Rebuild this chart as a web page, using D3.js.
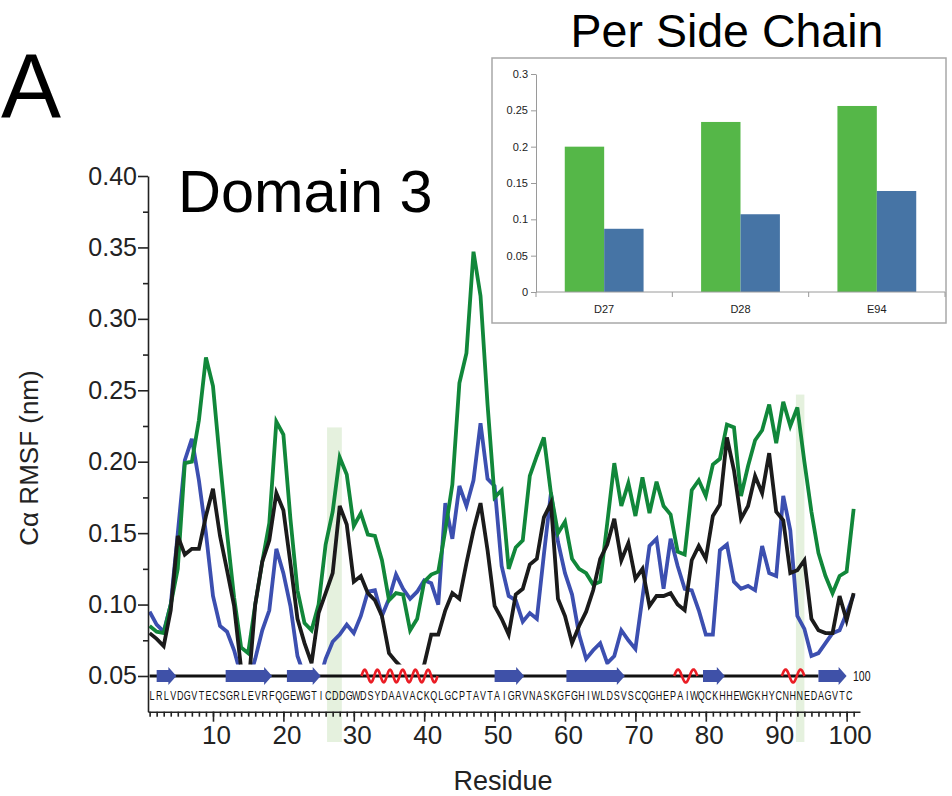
<!DOCTYPE html>
<html>
<head>
<meta charset="utf-8">
<script src="https://cdn.jsdelivr.net/npm/d3@7/dist/d3.min.js"></script>
<style>
  body { margin: 0; background: #fff; }
  text { font-family: "Liberation Sans", Arial, sans-serif; }
</style>
</head>
<body>
<div id="chart"></div>
<script>
// Residue numbers and per-residue C-alpha RMSF (nm)
const residues = d3.range(1, 102);
const greenRmsf = [0.085,0.081,0.080,0.100,0.125,0.199,0.200,0.229,0.273,0.253,
  0.200,0.150,0.105,0.070,0.066,0.100,0.130,0.157,0.228,0.219,
  0.160,0.110,0.087,0.082,0.100,0.142,0.165,0.203,0.191,0.155,
  0.164,0.149,0.148,0.131,0.103,0.108,0.107,0.082,0.090,0.116,
  0.121,0.123,0.152,0.184,0.255,0.276,0.347,0.316,0.240,0.175,
  0.180,0.125,0.140,0.145,0.190,0.204,0.217,0.178,0.150,0.158,
  0.132,0.125,0.122,0.114,0.116,0.157,0.199,0.169,0.185,0.162,
  0.189,0.164,0.186,0.169,0.163,0.137,0.135,0.180,0.187,0.176,
  0.198,0.202,0.226,0.224,0.176,0.197,0.215,0.222,0.240,0.213,
  0.242,0.225,0.238,0.200,0.165,0.136,0.120,0.108,0.120,0.123,0.167];
const blueRmsf = [0.095,0.086,0.081,0.100,0.150,0.201,0.216,0.187,0.150,0.106,
  0.085,0.081,0.068,0.050,0.045,0.062,0.082,0.096,0.139,0.122,
  0.099,0.064,0.050,0.040,0.045,0.062,0.074,0.079,0.086,0.080,
  0.092,0.109,0.110,0.092,0.104,0.121,0.111,0.104,0.109,0.117,
  0.115,0.100,0.171,0.146,0.183,0.169,0.187,0.227,0.188,0.183,
  0.127,0.106,0.103,0.088,0.094,0.090,0.135,0.178,0.144,0.122,
  0.107,0.079,0.062,0.068,0.073,0.059,0.064,0.082,0.075,0.069,
  0.105,0.141,0.146,0.111,0.146,0.127,0.111,0.110,0.096,0.079,
  0.079,0.138,0.142,0.116,0.111,0.113,0.110,0.141,0.122,0.120,
  0.176,0.152,0.092,0.083,0.064,0.066,0.073,0.080,0.082,0.094,0.107];
const blackRmsf = [0.080,0.076,0.071,0.096,0.148,0.135,0.139,0.139,0.162,0.181,
  0.148,0.124,0.099,0.055,0.040,0.100,0.130,0.145,0.178,0.166,
  0.129,0.090,0.073,0.059,0.094,0.108,0.122,0.169,0.156,0.116,
  0.120,0.108,0.103,0.092,0.066,0.060,0.055,0.050,0.050,0.058,
  0.079,0.079,0.096,0.108,0.104,0.129,0.152,0.171,0.138,0.099,
  0.090,0.079,0.107,0.111,0.128,0.132,0.161,0.171,0.104,0.092,
  0.073,0.085,0.095,0.110,0.132,0.142,0.160,0.131,0.143,0.118,
  0.125,0.099,0.106,0.106,0.108,0.100,0.096,0.131,0.141,0.132,
  0.162,0.170,0.217,0.194,0.160,0.169,0.190,0.178,0.206,0.165,
  0.159,0.122,0.124,0.131,0.090,0.082,0.080,0.080,0.106,0.089,0.108];

// Sequence and secondary structure (residue ranges)
const sequence = "LRLVDGVTECSGRLEVRFQGEWGTICDDGWDSYDAAVACKQLGCPTAVTAIGRVNASKGFGHIWLDSVSCQGHEPAIWQCKHHEWGKHYCNHNEDAGVTC";
const strandStart = [2.0, 11.8, 20.5, 50.0, 60.2, 79.6, 96.0];
const strandEnd   = [4.8, 18.4, 25.3, 54.2, 68.5, 82.7, 100.0];
const helixStart = [31.1, 75.5, 90.8];
const helixEnd   = [41.9, 78.8, 94.0];
const helixTurns = [6, 1.5, 1.5];

// Highlighted residues (D27/D28 and E94)
const bandStart = [26.2, 92.8];
const bandEnd   = [28.3, 94.0];
const bandTop   = [0.224, 0.247];

// Axis ticks
const xMajorTicks = d3.range(10, 101, 10);
const xMinorTicks = d3.range(1, 102);
const yMajorTicks = [0.05, 0.10, 0.15, 0.20, 0.25, 0.30, 0.35, 0.40];
const yMinorTicks = [0.075, 0.125, 0.175, 0.225, 0.275, 0.325, 0.375];

// Inset: per side chain RMSF
const sideChains = ["D27", "D28", "E94"];
const sideGreen = [0.200, 0.234, 0.256];
const sideBlue  = [0.087, 0.107, 0.139];
const insetTicks = [0, 0.05, 0.1, 0.15, 0.2, 0.25, 0.3];

const W = 952, H = 796;
const svg = d3.select("#chart").append("svg")
    .attr("width", W).attr("height", H);

const x = d3.scaleLinear().domain([0.77, 101.9]).range([148, 860]);
const y = d3.scaleLinear().domain([0.025, 0.40]).range([711.7, 176]);

// light green highlight bands behind everything
svg.selectAll(".band")
    .data(bandStart)
    .enter().append("rect")
    .attr("x", (d, i) => x(d))
    .attr("width", (d, i) => x(bandEnd[i]) - x(d))
    .attr("y", (d, i) => y(bandTop[i]))
    .attr("height", (d, i) => 742 - y(bandTop[i]))
    .attr("fill", "#e2f0da")
    .attr("opacity", 0.9);

// clip lines just above the secondary structure strip
svg.append("clipPath").attr("id", "plotclip")
    .append("rect")
    .attr("x", 148).attr("y", 150)
    .attr("width", 720).attr("height", y(0.058) - 150);

const line = d3.line()
    .x((d, i) => x(residues[i]))
    .y(d => y(d));

const series = [
    {values: blueRmsf, color: "#3c4fb0"},
    {values: greenRmsf, color: "#11873a"},
    {values: blackRmsf, color: "#1b1b1b"}
];

svg.append("g").attr("clip-path", "url(#plotclip)")
    .selectAll("path")
    .data(series)
    .enter().append("path")
    .attr("d", d => line(d.values))
    .attr("fill", "none")
    .attr("stroke", d => d.color)
    .attr("stroke-width", 3.8)
    .attr("stroke-linejoin", "miter");

// Y axis
const yAxis = svg.append("g").attr("transform", "translate(148,0)");
yAxis.call(d3.axisLeft(y).tickValues(yMajorTicks).tickSize(10).tickSizeOuter(0)
    .tickFormat(d3.format(".2f")));
yAxis.append("g").call(d3.axisLeft(y).tickValues(yMinorTicks).tickSize(5).tickFormat(""))
    .select(".domain").remove();
yAxis.selectAll("path, line").attr("stroke", "#222").attr("stroke-width", 1.6);
yAxis.selectAll("text")
    .attr("font-size", 25).attr("fill", "#222")
    .attr("x", -11).attr("font-family", "Liberation Sans, Arial, sans-serif");

// X axis
const xAxis = svg.append("g").attr("transform", "translate(0,711.7)");
xAxis.call(d3.axisBottom(x).tickValues(xMajorTicks).tickSize(10).tickSizeOuter(0));
xAxis.append("g").call(d3.axisBottom(x).tickValues(xMinorTicks).tickSize(5).tickFormat(""))
    .select(".domain").remove();
xAxis.selectAll("path, line").attr("stroke", "#222").attr("stroke-width", 1.6);
xAxis.selectAll("text")
    .attr("font-size", 26).attr("fill", "#222")
    .attr("x", 3).attr("y", 14)
    .attr("font-family", "Liberation Sans, Arial, sans-serif");

// secondary structure: backbone line
const ssY = y(0.05);
svg.append("line")
    .attr("x1", x(1)).attr("x2", x(96))
    .attr("y1", ssY).attr("y2", ssY)
    .attr("stroke", "#111").attr("stroke-width", 3);

// strands as arrows
const arrowPath = (s, e) => {
    const x0 = x(s), x1 = x(e), hx = x1 - 8;
    return `M${x0},${ssY - 6}L${hx},${ssY - 6}L${hx},${ssY - 9}L${x1},${ssY}` +
           `L${hx},${ssY + 9}L${hx},${ssY + 6}L${x0},${ssY + 6}Z`;
};
svg.selectAll(".strand")
    .data(strandStart)
    .enter().append("path")
    .attr("d", (d, i) => arrowPath(d, strandEnd[i]))
    .attr("fill", "#3f51a8");

// helices as red waves
svg.selectAll(".helix")
    .data(helixStart)
    .enter().append("path")
    .attr("d", (d, i) => {
        const x0 = x(d), x1 = x(helixEnd[i]);
        const pts = d3.range(0, 1.0001, 0.01).map(t =>
            [x0 + t * (x1 - x0), ssY - 6.5 * Math.sin(2 * Math.PI * helixTurns[i] * t)]);
        return d3.line().curve(d3.curveBasis)(pts);
    })
    .attr("fill", "none")
    .attr("stroke", "#ea1d25")
    .attr("stroke-width", 2.6);

// sequence letters
svg.selectAll(".aa")
    .data(sequence.split(""))
    .enter().append("text")
    .attr("transform", (d, i) => `translate(${x(i + 1) + 2.5},700) scale(0.72,1)`)
    .attr("text-anchor", "middle")
    .attr("font-size", 12.5)
    .attr("fill", "#111")
    .text(d => d);

svg.append("text")
    .attr("transform", `translate(853,${ssY + 5}) scale(0.75,1)`)
    .attr("font-size", 14)
    .attr("fill", "#111")
    .text("100");

// Titles and axis labels
svg.append("text")
    .attr("x", 1).attr("y", 117)
    .attr("font-size", 90).attr("fill", "#000")
    .text("A");

svg.append("text")
    .attr("x", 178).attr("y", 212)
    .attr("font-size", 59.5).attr("fill", "#000")
    .text("Domain 3");

svg.append("text")
    .attr("transform", "translate(38,458) rotate(-90)")
    .attr("text-anchor", "middle")
    .attr("font-size", 26).attr("fill", "#222")
    .text("Cα RMSF (nm)");

svg.append("text")
    .attr("x", 503).attr("y", 790)
    .attr("text-anchor", "middle")
    .attr("font-size", 27).attr("fill", "#222")
    .text("Residue");

// Inset bar chart
svg.append("text")
    .attr("x", 727).attr("y", 47)
    .attr("text-anchor", "middle")
    .attr("font-size", 46.5).attr("fill", "#000")
    .text("Per Side Chain");

svg.append("rect")
    .attr("x", 492).attr("y", 58)
    .attr("width", 454).attr("height", 265)
    .attr("fill", "#fff")
    .attr("stroke", "#a8a8a8").attr("stroke-width", 1.5);

const xi = d3.scaleBand().domain(sideChains).range([536, 945]);
const xs = d3.scaleBand().domain(["g", "b"]).range([0, xi.bandwidth()]).paddingOuter(0.73);
const yi = d3.scaleLinear().domain([0, 0.3]).range([292, 74]);

const inset = svg.append("g");
const groups = inset.selectAll(".grp")
    .data(sideChains)
    .enter().append("g")
    .attr("transform", d => `translate(${xi(d)},0)`);
groups.append("rect")
    .attr("x", xs("g")).attr("width", xs.bandwidth())
    .attr("y", (d, i) => yi(sideGreen[i]))
    .attr("height", (d, i) => yi(0) - yi(sideGreen[i]))
    .attr("fill", "#55b748");
groups.append("rect")
    .attr("x", xs("b")).attr("width", xs.bandwidth())
    .attr("y", (d, i) => yi(sideBlue[i]))
    .attr("height", (d, i) => yi(0) - yi(sideBlue[i]))
    .attr("fill", "#4674a5");

const iy = inset.append("g").attr("transform", "translate(536,0)")
    .call(d3.axisLeft(yi).tickValues(insetTicks).tickSize(5).tickSizeOuter(0)
        .tickFormat(d => String(+d.toFixed(2))));
iy.selectAll("path, line").attr("stroke", "#9a9a9a");
iy.selectAll("text").attr("font-size", 11).attr("fill", "#222")
    .attr("font-family", "Open Sans, Liberation Sans, sans-serif");

const ix = inset.append("g").attr("transform", "translate(0,292)");
ix.append("line").attr("x1", 536).attr("x2", 945)
    .attr("stroke", "#9a9a9a");
ix.selectAll(".tk")
    .data(sideChains.concat(["end"]))
    .enter().append("line")
    .attr("x1", d => d === "end" ? 945 : xi(d))
    .attr("x2", d => d === "end" ? 945 : xi(d))
    .attr("y1", 0).attr("y2", 5)
    .attr("stroke", "#9a9a9a");
ix.selectAll(".lbl")
    .data(sideChains)
    .enter().append("text")
    .attr("x", d => xi(d) + xi.bandwidth() / 2)
    .attr("y", 21)
    .attr("text-anchor", "middle")
    .attr("font-size", 11).attr("fill", "#222")
    .attr("font-family", "Open Sans, Liberation Sans, sans-serif")
    .text(d => d);
</script>
</body>
</html>
